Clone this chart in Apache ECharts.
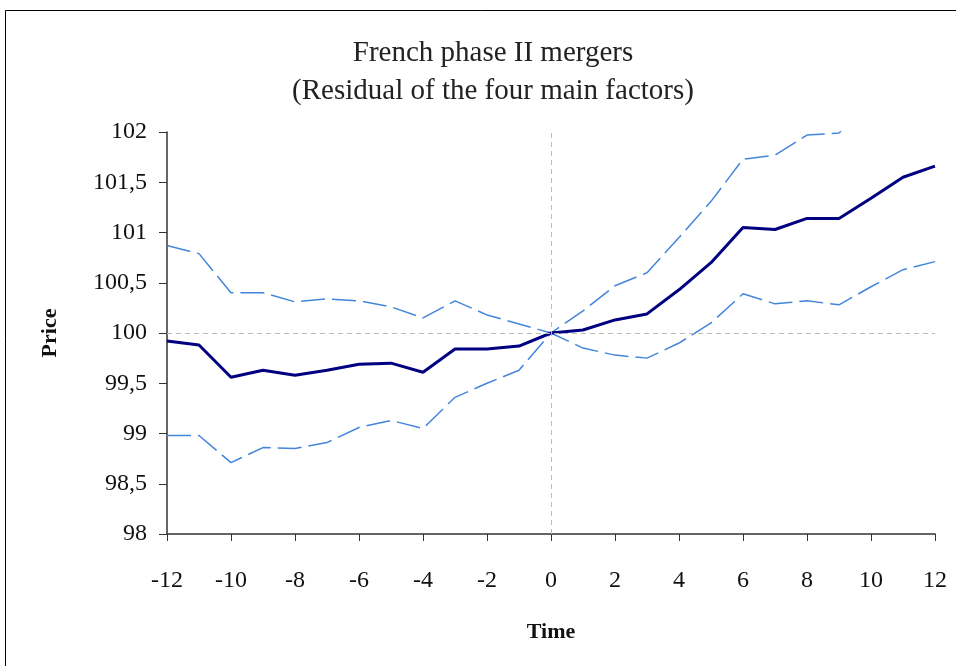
<!DOCTYPE html>
<html>
<head>
<meta charset="utf-8">
<script src="https://cdn.jsdelivr.net/npm/echarts@6/dist/echarts.min.js"></script>
<style>html,body{margin:0;padding:0;background:#fff;}#c{width:956px;height:666px;}</style>
</head>
<body>
<div id="c"></div>
<script>
const times = [-12,-11,-10,-9,-8,-7,-6,-5,-4,-3,-2,-1,0,1,2,3,4,5,6,7,8,9,10,11,12];
const mainPrice = [99.92,99.88,99.56,99.63,99.58,99.63,99.69,99.70,99.61,99.84,99.84,99.87,100.00,100.03,100.13,100.19,100.43,100.70,101.05,101.03,101.14,101.14,101.34,101.55,101.66];
const upperBand = [100.87,100.79,100.40,100.40,100.31,100.34,100.32,100.26,100.15,100.32,100.18,100.09,100.00,100.22,100.47,100.60,100.95,101.31,101.73,101.77,101.97,101.99,102.3,102.5,102.6];
const lowerBand = [98.98,98.98,98.71,98.86,98.85,98.91,99.06,99.13,99.05,99.36,99.50,99.63,100.00,99.85,99.78,99.75,99.90,100.10,100.39,100.29,100.32,100.28,100.46,100.63,100.71];
const titleLines = ['French phase II mergers', '(Residual of the four main factors)'];

const pair = arr => times.map((t, i) => [t, arr[i]]);
const font = 'Liberation Serif';
const chart = echarts.init(document.getElementById('c'), null, {renderer: 'canvas'});
chart.setOption({
  animation: false,
  backgroundColor: '#fff',
  title: {
    text: titleLines.join('\n'),
    left: 488, top: 29, textAlign: 'center',
    textStyle: {fontFamily: font, fontSize: 29, fontWeight: 'normal', color: '#222', lineHeight: 38}
  },
  graphic: [{
    type: 'rect', shape: {x: 5.5, y: 10.5, width: 1000, height: 1000},
    style: {fill: null, stroke: '#000', lineWidth: 1}, silent: true
  }],
  grid: {left: 167, right: 21, top: 132, bottom: 132},
  xAxis: {
    type: 'value', min: -12, max: 12, interval: 2,
    name: 'Time', nameLocation: 'middle', nameGap: 87,
    nameTextStyle: {fontFamily: font, fontSize: 22, fontWeight: 'bold', color: '#111'},
    axisLine: {onZero: false, lineStyle: {color: '#333', width: 1.5}},
    axisTick: {show: true, length: 7, lineStyle: {color: '#333'}},
    axisLabel: {fontFamily: font, fontSize: 24, color: '#111', margin: 35},
    splitLine: {show: false}
  },
  yAxis: {
    type: 'value', min: 98, max: 102, interval: 0.5,
    name: 'Price', nameLocation: 'middle', nameGap: 106, nameRotate: 90,
    nameTextStyle: {fontFamily: font, fontSize: 22, fontWeight: 'bold', color: '#111'},
    axisLine: {show: true, onZero: false, lineStyle: {color: '#333', width: 1.5}},
    axisTick: {show: true, length: 8, lineStyle: {color: '#333'}},
    axisLabel: {fontFamily: font, fontSize: 24, color: '#111', margin: 20,
      formatter: v => String(Math.round(v * 10) / 10).replace('.', ',')},
    splitLine: {show: false}
  },
  series: [
    {
      type: 'line', data: pair(upperBand), symbol: 'none', clip: true,
      lineStyle: {color: '#4485dc', width: 1.5, type: [24, 7]}, z: 3,
      markLine: {
        silent: true, symbol: 'none', label: {show: false},
        lineStyle: {color: '#bbbbbb', type: [5, 4], width: 1},
        data: [{yAxis: 100}, {xAxis: 0}]
      }
    },
    {
      type: 'line', data: pair(lowerBand), symbol: 'none', clip: true,
      lineStyle: {color: '#4485dc', width: 1.5, type: [24, 7]}, z: 3
    },
    {
      type: 'line', data: pair(mainPrice), symbol: 'none', clip: true,
      lineStyle: {color: '#000080', width: 3}, z: 4
    }
  ]
});
</script>
</body>
</html>
